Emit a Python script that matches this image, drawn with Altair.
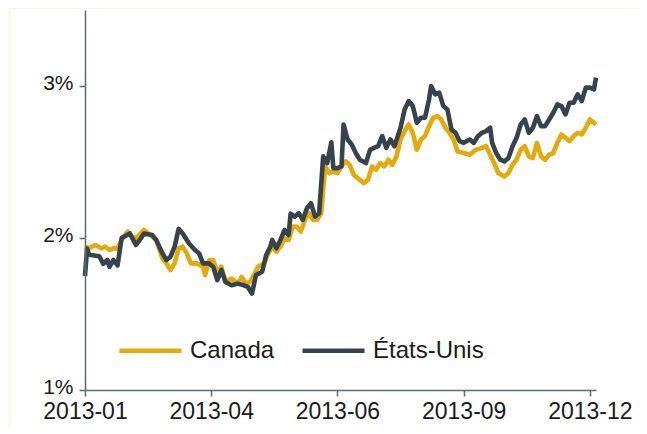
import altair as alt
import pandas as pd

# trading-day index and yield (%)
us_idx = [0,1,2,7,9,11,12,14,16,18,22,25,27,29,33,35,38,40,42,44,46,48,51,54,56,58,61,63,65,67,69,72,75,78,80,82,84,87,89,91,92,94,96,98,100,101,103,105,107,109,111,113,115,117,119,121,122,124,126,127,129,131,133,135,138,140,142,144,146,148,150,152,155,157,159,161,163,165,167,169,170,172,174,176,178,180,182,184,186,189,191,193,195,197,199,200,202,204,206,208,210,212,214,216,218,220,222,224,226,228,230,232,234,236,238,240,242,244,246,248,250,251]
us_val = [1.75,1.93,1.89,1.88,1.83,1.855,1.81,1.855,1.82,2.00,2.03,1.954,1.99,2.03,2.02,1.987,1.90,1.855,1.877,1.943,2.06,2.03,1.965,1.921,1.90,1.833,1.833,1.81,1.722,1.79,1.711,1.689,1.70,1.689,1.678,1.634,1.756,1.778,1.888,1.943,1.987,1.932,1.987,2.053,2.02,2.16,2.14,2.163,2.12,2.196,2.229,2.141,2.163,2.537,2.493,2.63,2.46,2.46,2.471,2.747,2.648,2.615,2.559,2.515,2.493,2.58,2.593,2.604,2.67,2.593,2.648,2.604,2.725,2.846,2.901,2.868,2.758,2.791,2.791,2.912,3.00,2.945,2.956,2.868,2.846,2.714,2.692,2.637,2.626,2.648,2.626,2.67,2.692,2.703,2.725,2.626,2.559,2.515,2.504,2.526,2.604,2.659,2.747,2.78,2.692,2.725,2.802,2.736,2.736,2.78,2.824,2.879,2.868,2.813,2.89,2.89,2.945,2.901,2.989,2.989,2.978,3.055]

ca_idx = [0,2,5,8,10,12,14,16,18,21,23,25,29,31,35,38,40,42,44,46,48,50,52,55,58,59,61,63,65,67,69,72,75,77,79,81,83,85,88,90,92,94,96,98,100,102,104,106,108,110,112,114,116,118,120,122,124,126,128,130,132,134,137,139,141,143,145,147,149,151,153,155,157,159,161,163,165,167,169,171,173,175,177,179,181,183,186,189,192,195,197,199,201,203,206,208,210,212,214,216,218,220,222,224,226,228,230,232,234,236,238,240,242,244,246,248,251]
ca_val = [1.943,1.932,1.954,1.932,1.943,1.921,1.932,1.932,1.987,2.042,2.009,1.998,2.053,2.031,1.987,1.866,1.833,1.789,1.833,1.932,1.943,1.899,1.833,1.833,1.811,1.756,1.855,1.855,1.767,1.811,1.711,1.733,1.70,1.744,1.70,1.711,1.756,1.811,1.833,1.899,1.943,1.91,1.943,1.998,1.987,2.075,2.075,2.042,2.119,2.163,2.119,2.119,2.163,2.471,2.427,2.438,2.427,2.471,2.504,2.482,2.416,2.394,2.361,2.383,2.471,2.449,2.493,2.471,2.515,2.482,2.537,2.648,2.703,2.747,2.692,2.581,2.648,2.67,2.736,2.791,2.802,2.78,2.725,2.692,2.648,2.57,2.559,2.548,2.581,2.593,2.604,2.548,2.493,2.427,2.405,2.427,2.482,2.515,2.581,2.604,2.537,2.526,2.626,2.537,2.515,2.548,2.559,2.626,2.681,2.659,2.637,2.67,2.692,2.681,2.725,2.78,2.747]

series_names = ["Canada", "États-Unis"]
series_colors = ["#E5AA0A", "#36434D"]

tick_pos = [0, 62, 124, 186, 248]
tick_labels = ["2013-01", "2013-04", "2013-06", "2013-09", "2013-12"]
y_ticks = [1, 2, 3]

df = pd.concat([
    pd.DataFrame({"idx": ca_idx, "val": ca_val, "pays": series_names[0]}),
    pd.DataFrame({"idx": us_idx, "val": us_val, "pays": series_names[1]}),
])

label_expr = "{" + ",".join(f"'{p}':'{l}'" for p, l in zip(tick_pos, tick_labels)) + "}[datum.value]"

font = "Liberation Sans"
axis_col = "#5F6B73"

panel = alt.Chart(pd.DataFrame({"a": [0]})).mark_rect(color="white", clip=False).encode(
    x=alt.value(-74), x2=alt.value(560), y=alt.value(-1), y2=alt.value(420)
)

lines = alt.Chart(df).mark_line(strokeWidth=4.6, strokeJoin="round").encode(
    x=alt.X("idx:Q", scale=alt.Scale(domain=[0, 251], nice=False, zero=False),
            axis=alt.Axis(values=tick_pos, labelExpr=label_expr, title=None, grid=False, zindex=1,
                          domainColor=axis_col, domainWidth=1.5, tickColor=axis_col, tickWidth=1.5,
                          tickSize=6, labelFontSize=23, labelFont=font, labelColor="#1a1a1a",
                          labelPadding=4, labelFlush=False, labelOverlap=False)),
    y=alt.Y("val:Q", scale=alt.Scale(domain=[1, 3.5], nice=False, zero=False),
            axis=alt.Axis(values=y_ticks, labelExpr="datum.value + '%'", title=None, grid=False, zindex=1,
                          domainColor=axis_col, domainWidth=1.5, tickColor=axis_col, tickWidth=1.5,
                          tickSize=6, labelFontSize=21, labelFont=font, labelColor="#1a1a1a",
                          labelPadding=6, labelOffset=-3)),
    color=alt.Color("pays:N", scale=alt.Scale(domain=series_names, range=series_colors),
                    legend=alt.Legend(title=None, orient="none", legendX=32, legendY=307,
                                      direction="horizontal", symbolType="stroke",
                                      symbolSize=3844, symbolStrokeWidth=4.5,
                                      labelFontSize=24, labelFont=font, labelColor="#1a1a1a",
                                      labelOffset=6, columnPadding=18, padding=0)),
    order=alt.Order("idx:Q"),
)

chart = alt.layer(panel, lines).properties(
    width=511, height=380,
    background="#FCF8EE",
    padding={"left": 77, "top": 2, "right": 43, "bottom": 36},
    autosize=alt.AutoSizeParams(type="none"),
).configure_view(stroke=None)

chart.save("out.html", embed_options={"renderer": "svg", "actions": False})
